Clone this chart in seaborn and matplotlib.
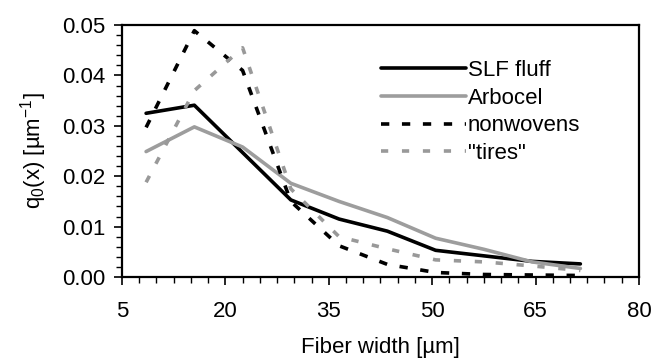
import numpy as np
import pandas as pd
import seaborn as sns
import matplotlib
matplotlib.use('Agg')
import matplotlib.pyplot as plt
from matplotlib.ticker import MultipleLocator, FormatStrFormatter

# fiber width class centres [um]
width = [8.5, 15.5, 22.5, 29.5, 36.5, 43.5, 50.5, 57.5, 64.5, 71.5]

slf_fluff = [0.0325, 0.0341, 0.0247, 0.0153, 0.0115, 0.0091, 0.0053, 0.0042, 0.0031, 0.0026]
arbocel = [0.0249, 0.0298, 0.0258, 0.0186, 0.0150, 0.0118, 0.0077, 0.0055, 0.0030, 0.0017]
nonwovens = [0.0297, 0.0489, 0.0410, 0.0150, 0.0062, 0.0025, 0.0009, 0.0005, 0.0004, 0.0003]
tires = [0.0188, 0.0370, 0.0455, 0.0175, 0.0080, 0.0056, 0.0034, 0.0030, 0.0022, 0.0013]

labels = ['SLF fluff', 'Arbocel', 'nonwovens', '"tires"']
x_ticks = [5, 20, 35, 50, 65, 80]

df = pd.DataFrame({
    'width': width * 4,
    'q0': slf_fluff + arbocel + nonwovens + tires,
    'sample': [lab for lab in labels for _ in width],
})

sns.set_style('ticks')
plt.rcParams['font.family'] = ['Liberation Sans', 'DejaVu Sans']
plt.rcParams['mathtext.fontset'] = 'custom'
plt.rcParams['mathtext.rm'] = 'Liberation Sans'
plt.rcParams['mathtext.it'] = 'Liberation Sans'
plt.rcParams['text.color'] = 'black'
plt.rcParams['axes.labelcolor'] = 'black'
plt.rcParams['xtick.color'] = 'black'
plt.rcParams['ytick.color'] = 'black'

fig = plt.figure(figsize=(6.54, 3.64), dpi=100)
ax = fig.add_axes([0.1865, 0.239, 0.7905, 0.692])

styles = {
    'SLF fluff': dict(color='black', linestyle='-', linewidth=2.6),
    'Arbocel': dict(color='#9d9d9d', linestyle='-', linewidth=2.6),
    'nonwovens': dict(color='black', linestyle=(0, (2.3, 3.5)), linewidth=2.6),
    '"tires"': dict(color='#999999', linestyle=(0, (2.0, 3.8)), linewidth=2.6),
}

for lab in labels:
    sns.lineplot(
        data=df[df['sample'] == lab],
        x='width',
        y='q0',
        ax=ax,
        label=lab,
        **styles[lab],
    )

ax.set_xlim(5, 80)
ax.set_ylim(0, 0.05)
ax.set_xticks(x_ticks)
ax.xaxis.set_minor_locator(MultipleLocator(2.5))
ax.yaxis.set_major_locator(MultipleLocator(0.01))
ax.yaxis.set_minor_locator(MultipleLocator(0.002))
ax.yaxis.set_major_formatter(FormatStrFormatter('%.2f'))

ax.tick_params(which='major', direction='out', length=6, width=1.2, labelsize=16, pad=6)
ax.tick_params(which='minor', direction='out', length=4, width=1.0)
ax.tick_params(axis='x', which='major', pad=11)

for sp in ax.spines.values():
    sp.set_linewidth(1.6)
    sp.set_color('black')

ax.set_xlabel('Fiber width [µm]', fontsize=16, labelpad=11)
ax.set_ylabel(r'q$_0$(x) [µm$^{-1}$]', fontsize=16, labelpad=9)

ax.legend(
    loc='upper left',
    bbox_to_anchor=(0.48, 0.905),
    frameon=False,
    fontsize=16,
    handlelength=3.8,
    handletextpad=0.1,
    labelspacing=0.3,
    borderpad=0.0,
)

fig.savefig('out.png', dpi=100)
